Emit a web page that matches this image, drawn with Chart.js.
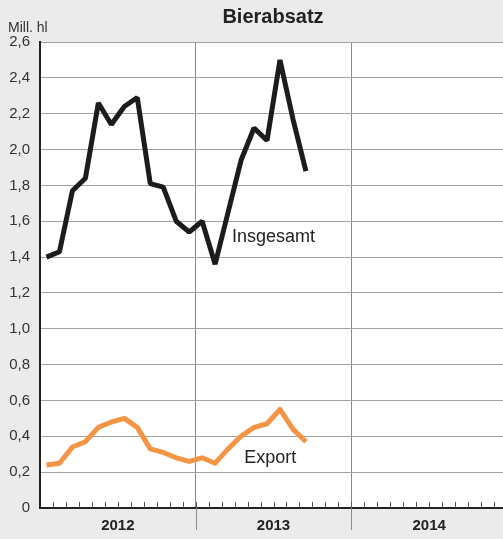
<!DOCTYPE html>
<html>
<head>
<meta charset="utf-8">
<script src="https://cdn.jsdelivr.net/npm/chart.js@4/dist/chart.umd.min.js"></script>
<style>
  html, body { margin: 0; padding: 0; background: #ebebec; overflow: hidden; }
</style>
</head>
<body>
<canvas id="chart" width="507" height="539"></canvas>
<script>
// data, monthly values from Jan 2012
const years = ['2012', '2013', '2014'];
const insgesamt = [1.40, 1.43, 1.77, 1.84, 2.26, 2.14, 2.24, 2.29, 1.81, 1.79, 1.60, 1.54,
                   1.60, 1.36, 1.65, 1.94, 2.12, 2.05, 2.50, 2.17, 1.88];
const exportValues = [0.24, 0.25, 0.34, 0.37, 0.45, 0.48, 0.50, 0.45, 0.33, 0.31, 0.28, 0.26,
                      0.28, 0.25, 0.33, 0.40, 0.45, 0.47, 0.55, 0.44, 0.37];
const yTicks = [0, 0.2, 0.4, 0.6, 0.8, 1.0, 1.2, 1.4, 1.6, 1.8, 2.0, 2.2, 2.4, 2.6];

const totalMonths = years.length * 12;
const toPoints = arr => arr.map((v, i) => ({ x: i + 0.5, y: v }));

// background, month ticks, year separators and texts
const decor = {
  id: 'decor',
  beforeDraw(chart) {
    const ctx = chart.ctx, a = chart.chartArea;
    ctx.save();
    ctx.fillStyle = '#ebebec';
    ctx.fillRect(0, 0, chart.width, chart.height);
    ctx.fillStyle = '#ffffff';
    ctx.fillRect(a.left, a.top, a.right - a.left, a.bottom - a.top);
    ctx.restore();
  },
  afterDraw(chart) {
    const ctx = chart.ctx, a = chart.chartArea;
    const xs = chart.scales.x, ys = chart.scales.y;
    ctx.save();
    // month ticks
    ctx.strokeStyle = '#555';
    ctx.lineWidth = 1;
    for (let m = 1; m < totalMonths; m++) {
      const px = Math.round(xs.getPixelForValue(m)) + 0.5;
      ctx.beginPath();
      ctx.moveTo(px, a.bottom);
      ctx.lineTo(px, a.bottom - 6);
      ctx.stroke();
    }
    // year separators below the axis
    ctx.strokeStyle = '#8a8a8a';
    for (let y = 1; y < years.length; y++) {
      const px = Math.round(xs.getPixelForValue(y * 12)) + 0.5;
      ctx.beginPath();
      ctx.moveTo(px, a.bottom);
      ctx.lineTo(px, a.bottom + 22);
      ctx.stroke();
    }
    // title
    ctx.fillStyle = '#222';
    ctx.font = 'bold 20px "Liberation Sans", Arial, sans-serif';
    ctx.textAlign = 'center';
    ctx.textBaseline = 'middle';
    ctx.fillText('Bierabsatz', 273, 17);
    // unit
    ctx.fillStyle = '#333';
    ctx.font = '14px "Liberation Sans", Arial, sans-serif';
    ctx.textAlign = 'left';
    ctx.fillText('Mill. hl', 8, 28);
    // series labels
    ctx.fillStyle = '#222';
    ctx.font = '18px "Liberation Sans", Arial, sans-serif';
    ctx.fillText('Insgesamt', xs.getPixelForValue(14.8), ys.getPixelForValue(1.51));
    ctx.fillText('Export', xs.getPixelForValue(15.75), ys.getPixelForValue(0.28));
    ctx.restore();
  }
};

new Chart(document.getElementById('chart'), {
  type: 'line',
  data: {
    datasets: [{
      label: 'Insgesamt',
      data: toPoints(insgesamt),
      borderColor: '#1c1c1c',
      borderWidth: 5,
      borderJoinStyle: 'bevel',
      pointRadius: 0,
      tension: 0
    }, {
      label: 'Export',
      data: toPoints(exportValues),
      borderColor: '#f39545',
      borderWidth: 5,
      borderJoinStyle: 'round',
      pointRadius: 0,
      tension: 0
    }]
  },
  options: {
    responsive: false,
    animation: false,
    layout: { padding: { top: 42, right: 0, left: 0, bottom: 0 } },
    plugins: {
      legend: { display: false },
      title: { display: false },
      tooltip: { enabled: false }
    },
    scales: {
      x: {
        type: 'linear',
        min: 0,
        max: totalMonths,
        afterBuildTicks: scale => {
          const t = [];
          for (let v = 0; v <= totalMonths; v += 6) t.push({ value: v });
          scale.ticks = t;
        },
        afterFit: scale => {
          scale.height = 31;
          scale.paddingLeft = 0;
          scale.paddingRight = 0;
        },
        border: { display: true, color: '#222', width: 2 },
        grid: {
          drawTicks: false,
          lineWidth: 1,
          color: c => (c.tick && c.tick.value % 12 === 0 && c.tick.value > 0 && c.tick.value < totalMonths) ? '#8a8a8a' : 'rgba(0,0,0,0)'
        },
        ticks: {
          autoSkip: false,
          maxRotation: 0,
          padding: 9,
          color: '#222',
          font: { family: '"Liberation Sans", Arial, sans-serif', size: 15, weight: 'bold' },
          callback: v => (v % 12 === 6 ? years[(v - 6) / 12] : '')
        }
      },
      y: {
        min: 0,
        max: 2.6,
        afterBuildTicks: scale => { scale.ticks = yTicks.map(v => ({ value: v })); },
        afterFit: scale => {
          scale.width = 40;
          scale.paddingTop = 0;
          scale.paddingBottom = 0;
        },
        border: { display: true, color: '#222', width: 2 },
        grid: { drawTicks: false, color: '#a3a3a3', lineWidth: 1 },
        ticks: {
          padding: 10,
          color: '#333',
          font: { family: '"Liberation Sans", Arial, sans-serif', size: 15 },
          callback: v => (v === 0 ? '0' : v.toFixed(1).replace('.', ','))
        }
      }
    }
  },
  plugins: [decor]
});
</script>
</body>
</html>
